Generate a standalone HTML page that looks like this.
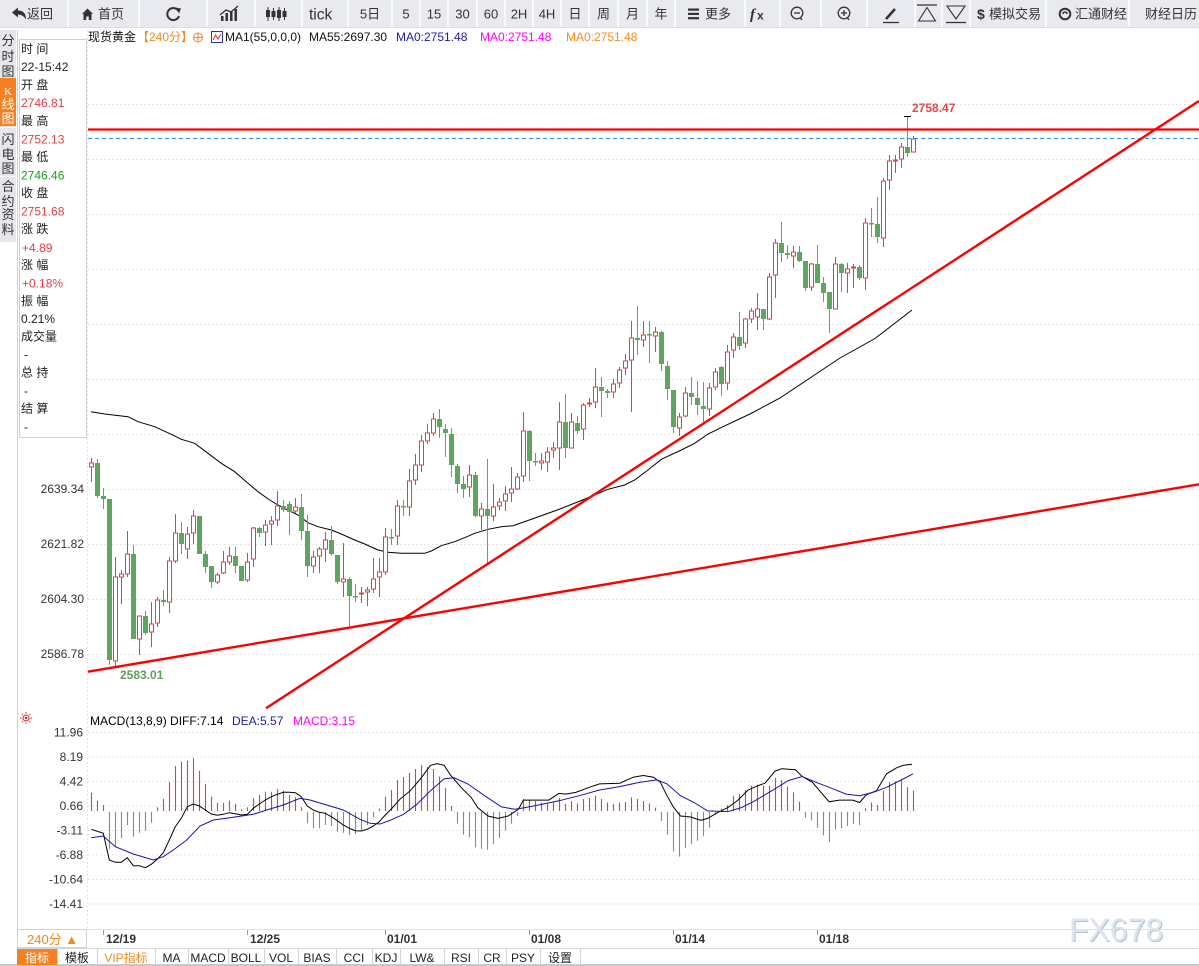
<!DOCTYPE html>
<html><head><meta charset="utf-8">
<style>
body{margin:0;width:1199px;height:966px;overflow:hidden;background:#fff;position:relative;}
svg{position:absolute;left:0;top:0;}
text{font-family:"Liberation Sans","Noto Sans CJK SC",sans-serif;}
.mono{font-family:"Liberation Mono","Noto Serif CJK SC",monospace;}
</style></head><body>
<svg width="1199" height="966" viewBox="0 0 1199 966" xmlns="http://www.w3.org/2000/svg">
<!-- TOOLBAR -->
<rect x="0" y="0" width="1199" height="27" fill="#e8eaef"/>
<line x1="0" y1="27.5" x2="1199" y2="27.5" stroke="#dadde3"/>
<path d="M68 0V27M139 0V27M207 0V27M255 0V27M302 0V27M348 0V27M392 0V27M420 0V27M448 0V27M477 0V27M505 0V27M533 0V27M561 0V27M589 0V27M618 0V27M647 0V27M675 0V27M745 0V27M780 0V27M821 0V27M867 0V27M915 0V27M942 0V27M970 0V27M1046 0V27M1129 0V27" stroke="#f8f9fb" stroke-width="2"/>
<g fill="#333">
<path d="M12 12.5 L18 7.5 L18 10.5 Q26 10.5 26 19.5 Q23 14.5 18 14.5 L18 17.5 Z"/>
<path d="M82 14 L87.5 8.5 L93 14 L91.5 14 L91.5 20 L88.8 20 L88.8 16.5 L86.2 16.5 L86.2 20 L83.5 20 L83.5 14Z"/>
</g>
<path d="M178.5 11 A6 6 0 1 0 179 16" fill="none" stroke="#333" stroke-width="2"/>
<path d="M175.5 7.5 L181 8.5 L179 13.5 Z" fill="#333"/>
<g fill="#333">
<rect x="221" y="16" width="2.5" height="5"/><rect x="225.5" y="13" width="2.5" height="8"/><rect x="230" y="11" width="2.5" height="10"/><rect x="234.5" y="9" width="2.5" height="12"/>
</g>
<polyline points="220,15 226,10 231,12 238,6" fill="none" stroke="#333" stroke-width="1.3"/>
<g fill="#333" stroke="#333">
<line x1="268" y1="7" x2="268" y2="21"/><rect x="266" y="10" width="4" height="7" stroke="none"/>
<line x1="273.5" y1="8" x2="273.5" y2="20"/><rect x="271.5" y="11" width="4" height="6" stroke="none"/>
<line x1="279" y1="7" x2="279" y2="21"/><rect x="277" y="10" width="4" height="8" stroke="none"/>
<line x1="284.5" y1="8" x2="284.5" y2="20"/><rect x="282.5" y="11" width="4" height="6" stroke="none"/>
</g>
<g font-size="13" fill="#333">
<text x="27" y="18.5">返回</text>
<text x="98" y="18.5">首页</text>
<text x="309" y="19.5" font-size="15.5">tick</text>
<g text-anchor="middle">
<text x="370" y="18.5">5日</text>
<text x="406" y="18.5">5</text>
<text x="434" y="18.5">15</text>
<text x="462.5" y="18.5">30</text>
<text x="491" y="18.5">60</text>
<text x="519" y="18.5">2H</text>
<text x="547" y="18.5">4H</text>
<text x="575" y="18.5">日</text>
<text x="603.5" y="18.5">周</text>
<text x="632.5" y="18.5">月</text>
<text x="661" y="18.5">年</text>
</g>
<text x="705" y="18.5">更多</text>
<text x="977" y="19" font-weight="bold" font-size="14">$</text>
<text x="989" y="18.5">模拟交易</text>
<text x="1075" y="18.5">汇通财经</text>
<text x="1145" y="18.5">财经日历</text>
</g>
<g fill="#333"><rect x="688" y="8.5" width="11" height="2.2"/><rect x="688" y="12.8" width="11" height="2.2"/><rect x="688" y="17.1" width="11" height="2.2"/></g>
<text x="750" y="19" font-size="15" font-weight="bold" font-style="italic" fill="#333" style="font-family:'Liberation Serif',serif">f</text>
<text x="757" y="19.5" font-size="12" font-weight="bold" fill="#333">x</text>
<circle cx="797" cy="13" r="5.8" fill="none" stroke="#333" stroke-width="1.3"/><line x1="794" y1="13" x2="800" y2="13" stroke="#333" stroke-width="1.3"/><line x1="800.5" y1="18" x2="802" y2="20" stroke="#333" stroke-width="1.3"/>
<circle cx="844" cy="13" r="5.8" fill="none" stroke="#333" stroke-width="1.3"/><line x1="841" y1="13" x2="847" y2="13" stroke="#333" stroke-width="1.3"/><line x1="844" y1="10" x2="844" y2="16" stroke="#333" stroke-width="1.3"/><line x1="847.5" y1="18" x2="849" y2="20" stroke="#333" stroke-width="1.3"/>
<line x1="886" y1="19" x2="895" y2="9" stroke="#333" stroke-width="2.6"/><line x1="883" y1="22.5" x2="899" y2="22.5" stroke="#333" stroke-width="1.3"/>
<line x1="917" y1="5" x2="937" y2="5" stroke="#333" stroke-width="1.2"/><path d="M927 7.5 L918.5 21 L935.5 21 Z" fill="none" stroke="#333" stroke-width="1.1"/>
<path d="M947 6 L965 6 L956 19 Z" fill="none" stroke="#333" stroke-width="1.1"/><line x1="946" y1="22.5" x2="966" y2="22.5" stroke="#333" stroke-width="1.2"/>
<circle cx="1065" cy="14" r="5.3" fill="none" stroke="#333" stroke-width="2"/><path d="M1063 14 A2 2 0 1 1 1067 14" fill="none" stroke="#333" stroke-width="1.6"/>

<!-- LEFT TABS -->
<rect x="0" y="30" width="16" height="212" fill="#e6e7ea"/>
<rect x="0" y="78" width="16" height="48" fill="#f5801f"/>
<line x1="0" y1="127.5" x2="16" y2="127.5" stroke="#fafafa"/>
<line x1="0" y1="176.5" x2="16" y2="176.5" stroke="#fafafa"/>
<line x1="17.5" y1="30" x2="17.5" y2="966" stroke="#cbd2dc"/>
<g font-size="13" fill="#333" text-anchor="middle">
<text x="8" y="45">分</text><text x="8" y="61">时</text><text x="8" y="76">图</text>
<text x="8" y="95" fill="#fff" font-size="11" style="font-family:'Liberation Serif',serif">K</text><text x="8" y="109" fill="#fff">线</text><text x="8" y="123" fill="#fff">图</text>
<text x="8" y="144">闪</text><text x="8" y="159">电</text><text x="8" y="173">图</text>
<text x="8" y="191">合</text><text x="8" y="206">约</text><text x="8" y="219">资</text><text x="8" y="234">料</text>
</g>

<!-- GRID -->
<g stroke="#dedede" stroke-dasharray="1.5,2.5" stroke-width="1">
<path d="M88 104.5H1199M88 159.5H1199M88 214.5H1199M88 269.5H1199M88 324.5H1199M88 379.5H1199M88 434.5H1199M88 489.5H1199M88 544.5H1199M88 599.5H1199M88 654.5H1199"/>
<path d="M88 732.5H1199M88 757H1199M88 781.5H1199M88 806H1199M88 830.5H1199M88 855H1199M88 879.5H1199M88 904H1199"/>
<path d="M87.5 30V929"/>
</g>

<!-- INFO BOX -->
<rect x="19.5" y="39.5" width="67" height="398" fill="#fff" stroke="#cfcfcf"/>
<g font-size="12" fill="#222">
<text x="21" y="53">时 间</text>
<text x="21" y="71">22-15:42</text>
<text x="21" y="89">开 盘</text>
<text x="21" y="107" fill="#e33d45">2746.81</text>
<text x="21" y="125">最 高</text>
<text x="21" y="143.5" fill="#e33d45">2752.13</text>
<text x="21" y="161">最 低</text>
<text x="21" y="179.5" fill="#1e9a1e">2746.46</text>
<text x="21" y="197">收 盘</text>
<text x="21" y="215.5" fill="#e33d45">2751.68</text>
<text x="21" y="233">涨 跌</text>
<text x="22" y="252" fill="#e33d45">+4.89</text>
<text x="21" y="269">涨 幅</text>
<text x="22" y="287.5" fill="#e33d45">+0.18%</text>
<text x="21" y="305">振 幅</text>
<text x="21" y="323">0.21%</text>
<text x="21" y="340.5">成交量</text>
<text x="24" y="358.5">-</text>
<text x="21" y="376.5">总 持</text>
<text x="24" y="395">-</text>
<text x="21" y="412.5">结 算</text>
<text x="24" y="431">-</text>
</g>

<!-- HEADER -->
<g font-size="12">
<text x="88" y="41" fill="#111">现货黄金</text>
<text x="137" y="41" fill="#f08a1c">【240分】</text>
<text x="225" y="41" fill="#111">MA1(55,0,0,0)</text>
<text x="309" y="41" fill="#111">MA55:2697.30</text>
<text x="396" y="41" fill="#1c1ca8">MA0:2751.48</text>
<text x="480" y="41" fill="#ff00ff">MA0:2751.48</text>
<text x="566" y="41" fill="#ff8a1c">MA0:2751.48</text>
</g>
<circle cx="198" cy="37.5" r="4.5" fill="none" stroke="#f08a1c" stroke-width="1"/>
<path d="M193.5 37.5H202.5M198 33V42" stroke="#f08a1c" stroke-width="1"/>
<rect x="211.5" y="31.5" width="11" height="11" fill="#fff" stroke="#2a3ab0"/>
<polyline points="213,40 215.5,35 218,39 221,34" fill="none" stroke="#e03030" stroke-width="1"/>

<!-- PRICE AXIS LABELS -->
<g font-size="12" fill="#333" text-anchor="end">
<text x="84" y="493">2639.34</text>
<text x="84" y="548">2621.82</text>
<text x="84" y="603">2604.30</text>
<text x="84" y="658">2586.78</text>
</g>

<!-- MA55 -->
<polyline fill="none" stroke="#000" stroke-width="1" points="91,411.7 104.7,414 128,416.7 138,421.7 154.7,426.7 171.3,434.3 181.3,439.3 194.7,443.3 208,453.3 221.3,463.3 234.7,471.7 248,483.3 258,491.7 269.7,500 278,505 288,510 298,515 308,522.7 318,526.7 331.3,530 341.3,534 354.7,540 364.7,544 378,550 388,552.3 401.3,553.3 424.7,553.3 431.3,551 441.3,545.7 454.7,541.7 464.7,537.7 474.7,533.3 488,529.3 501.3,526.7 513,525.7 535,518 560,509 585,499 608,489.3 624.7,485 634.7,480 648,470 661.3,459.3 681.3,450 694.7,443.3 708,434 723,426.7 750,414 780,398 810,378 840,358 875,338.5 912,310"/>

<!-- CANDLES: red -->
<path fill="none" stroke="#e0413c" stroke-width="1" d="M91.5 458V482M115.5 557V667M121.5 570V604M127.5 531V577M139.5 616V655M151.5 602V647M157.5 597V627M169.5 557V613M175.5 514V563M187.5 527V559M193.5 510V544M217.5 573V584M223.5 551V574M229.5 547V565M247.5 553V582M253.5 527V567M265.5 520V546M271.5 516V545M277.5 491V526M295.5 498V513M313.5 551V573M319.5 547V573M325.5 532V562M343.5 543V597M361.5 587V603M367.5 587V606M373.5 558V593M379.5 558V597M385.5 528V575M397.5 500V545M409.5 469V516M415.5 454V485M421.5 435V472M427.5 424V444M433.5 413V436M469.5 465V497M481.5 503V530M493.5 484V521M499.5 498V510M505.5 486V511M511.5 467V502M517.5 473V490M523.5 412V482M541.5 453V470M547.5 447V472M553.5 442V458M559.5 402V470M571.5 413V448M583.5 403V440M589.5 398V407M595.5 368V408M613.5 379V398M619.5 367V388M625.5 354V375M631.5 321V412M643.5 321V347M655.5 327V352M679.5 413V436M685.5 387V417M709.5 383V416M715.5 368V390M727.5 345V390M733.5 333V358M745.5 318V348M751.5 308V323M757.5 293V330M769.5 273V320M775.5 239V298M793.5 246V268M811.5 263V291M835.5 257V309M847.5 263V293M853.5 264V288M865.5 218V290M883.5 178V247M889.5 155V190M895.5 155V173M901.5 143V168M913.5 136V152"/>
<g fill="#fff" stroke="#e0413c" stroke-width="1">
<rect x="89.5" y="463" width="4" height="4"/>
<rect x="113.5" y="577" width="4" height="84"/>
<rect x="119.5" y="574" width="4" height="3"/>
<rect x="125.5" y="554" width="4" height="20"/>
<rect x="137.5" y="616" width="4" height="23"/>
<rect x="149.5" y="624" width="4" height="8"/>
<rect x="155.5" y="600" width="4" height="23"/>
<rect x="167.5" y="561" width="4" height="41"/>
<rect x="173.5" y="533" width="4" height="28"/>
<rect x="185.5" y="534" width="4" height="15"/>
<rect x="191.5" y="516" width="4" height="17"/>
<rect x="215.5" y="575" width="4" height="7"/>
<rect x="221.5" y="562" width="4" height="11"/>
<rect x="227.5" y="556" width="4" height="6"/>
<rect x="245.5" y="562" width="4" height="18"/>
<rect x="251.5" y="528" width="4" height="31"/>
<rect x="263.5" y="525" width="4" height="7"/>
<rect x="269.5" y="521" width="4" height="3"/>
<rect x="275.5" y="506" width="4" height="14"/>
<rect x="293.5" y="507" width="4" height="4"/>
<rect x="311.5" y="557" width="4" height="9"/>
<rect x="317.5" y="549" width="4" height="7"/>
<rect x="323.5" y="540" width="4" height="9"/>
<rect x="341.5" y="579" width="4" height="3"/>
<rect x="359.5" y="593" width="4" height="1"/>
<rect x="365.5" y="590" width="4" height="2"/>
<rect x="371.5" y="579" width="4" height="10"/>
<rect x="377.5" y="572" width="4" height="5"/>
<rect x="383.5" y="537" width="4" height="35"/>
<rect x="395.5" y="506" width="4" height="30"/>
<rect x="407.5" y="481" width="4" height="26"/>
<rect x="413.5" y="465" width="4" height="15"/>
<rect x="419.5" y="441" width="4" height="24"/>
<rect x="425.5" y="433" width="4" height="8"/>
<rect x="431.5" y="419" width="4" height="14"/>
<rect x="467.5" y="475" width="4" height="12"/>
<rect x="479.5" y="509" width="4" height="7"/>
<rect x="491.5" y="507" width="4" height="9"/>
<rect x="497.5" y="502" width="4" height="4"/>
<rect x="503.5" y="494" width="4" height="7"/>
<rect x="509.5" y="489" width="4" height="4"/>
<rect x="515.5" y="477" width="4" height="12"/>
<rect x="521.5" y="431" width="4" height="45"/>
<rect x="539.5" y="461" width="4" height="2"/>
<rect x="545.5" y="452" width="4" height="10"/>
<rect x="551.5" y="448" width="4" height="2"/>
<rect x="557.5" y="422" width="4" height="26"/>
<rect x="569.5" y="422" width="4" height="26"/>
<rect x="581.5" y="405" width="4" height="24"/>
<rect x="587.5" y="403" width="4" height="1"/>
<rect x="593.5" y="387" width="4" height="15"/>
<rect x="611.5" y="384" width="4" height="8"/>
<rect x="617.5" y="370" width="4" height="13"/>
<rect x="623.5" y="361" width="4" height="7"/>
<rect x="629.5" y="338" width="4" height="22"/>
<rect x="641.5" y="335" width="4" height="5"/>
<rect x="653.5" y="332" width="4" height="4"/>
<rect x="677.5" y="417" width="4" height="11"/>
<rect x="683.5" y="393" width="4" height="23"/>
<rect x="707.5" y="388" width="4" height="21"/>
<rect x="713.5" y="372" width="4" height="15"/>
<rect x="725.5" y="352" width="4" height="31"/>
<rect x="731.5" y="337" width="4" height="13"/>
<rect x="743.5" y="319" width="4" height="24"/>
<rect x="749.5" y="311" width="4" height="8"/>
<rect x="755.5" y="309" width="4" height="8"/>
<rect x="767.5" y="277" width="4" height="42"/>
<rect x="773.5" y="243" width="4" height="32"/>
<rect x="791.5" y="252" width="4" height="4"/>
<rect x="809.5" y="264" width="4" height="23"/>
<rect x="833.5" y="264" width="4" height="45"/>
<rect x="845.5" y="269" width="4" height="4"/>
<rect x="851.5" y="267" width="4" height="1"/>
<rect x="863.5" y="223" width="4" height="55"/>
<rect x="881.5" y="181" width="4" height="57"/>
<rect x="887.5" y="161" width="4" height="19"/>
<rect x="893.5" y="160" width="4" height="1"/>
<rect x="899.5" y="147" width="4" height="12"/>
<rect x="911.5" y="139" width="4" height="13"/>
</g>
<!-- CANDLES: green -->
<path fill="none" stroke="#5fa55f" stroke-width="1" d="M97.5 459V498M103.5 488V509M109.5 499V665M133.5 545V639M145.5 611V635M163.5 590V606M181.5 522V554M199.5 516V554M205.5 551V573M211.5 566V588M235.5 547V573M241.5 566V581M259.5 527V537M283.5 500V512M289.5 501V535M301.5 494V540M307.5 515V577M331.5 526V556M337.5 555V584M349.5 577V626M355.5 584V602M391.5 529V545M403.5 500V516M439.5 409V438M445.5 424V457M451.5 428V477M457.5 464V493M463.5 476V498M475.5 472V517M487.5 459V565M529.5 430V481M535.5 453V466M565.5 394V458M577.5 416V434M601.5 377V417M607.5 389V398M637.5 306V355M649.5 321V363M661.5 331V371M667.5 361V400M673.5 390V433M691.5 377V405M697.5 381V415M703.5 382V423M721.5 366V396M739.5 312V350M763.5 309V330M781.5 222V262M787.5 245V259M799.5 246V262M805.5 261V291M817.5 245V283M823.5 277V302M829.5 292V333M841.5 263V292M859.5 265V280M871.5 208V237M877.5 197V243M907.5 116V157"/>
<g fill="#5fa55f">
<rect x="95" y="463" width="5" height="33"/>
<rect x="101" y="496" width="5" height="3"/>
<rect x="107" y="499" width="5" height="161"/>
<rect x="131" y="554" width="5" height="85"/>
<rect x="143" y="616" width="5" height="17"/>
<rect x="161" y="600" width="5" height="2"/>
<rect x="179" y="533" width="5" height="11"/>
<rect x="197" y="516" width="5" height="38"/>
<rect x="203" y="554" width="5" height="13"/>
<rect x="209" y="566" width="5" height="16"/>
<rect x="233" y="556" width="5" height="10"/>
<rect x="239" y="566" width="5" height="15"/>
<rect x="257" y="528" width="5" height="5"/>
<rect x="281" y="506" width="5" height="4"/>
<rect x="287" y="504" width="5" height="8"/>
<rect x="299" y="507" width="5" height="24"/>
<rect x="305" y="531" width="5" height="35"/>
<rect x="329" y="540" width="5" height="14"/>
<rect x="335" y="555" width="5" height="27"/>
<rect x="347" y="579" width="5" height="17"/>
<rect x="353" y="596" width="5" height="1.5"/>
<rect x="389" y="537" width="5" height="1.5"/>
<rect x="401" y="506" width="5" height="1.5"/>
<rect x="437" y="419" width="5" height="8"/>
<rect x="443" y="429" width="5" height="4"/>
<rect x="449" y="434" width="5" height="31"/>
<rect x="455" y="466" width="5" height="18"/>
<rect x="461" y="484" width="5" height="5"/>
<rect x="473" y="475" width="5" height="41"/>
<rect x="485" y="509" width="5" height="7"/>
<rect x="527" y="431" width="5" height="30"/>
<rect x="533" y="461" width="5" height="1.5"/>
<rect x="563" y="422" width="5" height="26"/>
<rect x="575" y="423" width="5" height="8"/>
<rect x="599" y="387" width="5" height="4"/>
<rect x="605" y="391" width="5" height="2"/>
<rect x="635" y="338" width="5" height="2"/>
<rect x="647" y="334" width="5" height="1.5"/>
<rect x="659" y="332" width="5" height="32"/>
<rect x="665" y="366" width="5" height="23"/>
<rect x="671" y="390" width="5" height="37"/>
<rect x="689" y="393" width="5" height="4"/>
<rect x="695" y="398" width="5" height="7"/>
<rect x="701" y="406" width="5" height="3"/>
<rect x="719" y="367" width="5" height="17"/>
<rect x="737" y="337" width="5" height="9"/>
<rect x="761" y="309" width="5" height="10"/>
<rect x="779" y="243" width="5" height="10"/>
<rect x="785" y="253" width="5" height="2"/>
<rect x="797" y="252" width="5" height="9"/>
<rect x="803" y="261" width="5" height="27"/>
<rect x="815" y="264" width="5" height="19"/>
<rect x="821" y="283" width="5" height="10"/>
<rect x="827" y="292" width="5" height="17"/>
<rect x="839" y="264" width="5" height="9"/>
<rect x="857" y="267" width="5" height="11"/>
<rect x="869" y="223" width="5" height="1.5"/>
<rect x="875" y="224" width="5" height="13"/>
<rect x="905" y="147" width="5" height="6"/>
</g>

<!-- high / low marks -->
<line x1="904" y1="116.5" x2="911" y2="116.5" stroke="#000" stroke-width="1"/>
<line x1="112" y1="667.5" x2="119" y2="667.5" stroke="#000" stroke-width="1"/>
<text x="912" y="112" font-size="12" font-weight="bold" fill="#e0484a">2758.47</text>
<text x="120" y="679" font-size="12" font-weight="bold" fill="#5e9e5e">2583.01</text>

<!-- LINES -->
<line x1="88" y1="129.5" x2="1199" y2="129.5" stroke="#ff0000" stroke-width="2.3"/>
<line x1="88" y1="138.5" x2="1199" y2="138.5" stroke="#2f93ff" stroke-width="1" stroke-dasharray="4,3"/>
<line x1="88" y1="671.7" x2="1199" y2="484.3" stroke="#ff0000" stroke-width="2.4"/>
<line x1="266" y1="708.2" x2="1199" y2="101" stroke="#ff0000" stroke-width="2.4"/>

<!-- MACD header -->
<g transform="translate(26,718)" stroke="#e02020" stroke-width="1">
<circle cx="0" cy="0" r="3" fill="none"/><circle cx="0" cy="0" r="1.2" fill="#e02020" stroke="none"/>
<path d="M0 -6V-4.5M0 4.5V6M-6 0H-4.5M4.5 0H6M-4.2 -4.2L-3.2 -3.2M3.2 3.2L4.2 4.2M-4.2 4.2L-3.2 3.2M3.2 -3.2L4.2 -4.2"/>
</g>
<g font-size="12">
<text x="90" y="725">MACD(13,8,9) DIFF:7.14</text>
<text x="232" y="725" fill="#1c1ca8">DEA:5.57</text>
<text x="293" y="725" fill="#ff00ff">MACD:3.15</text>
</g>
<g font-size="12" fill="#333" text-anchor="end">
<text x="83" y="736.5">11.96</text>
<text x="83" y="761">8.19</text>
<text x="83" y="785.5">4.42</text>
<text x="83" y="810">0.66</text>
<text x="83" y="834.5">-3.11</text>
<text x="83" y="859">-6.88</text>
<text x="83" y="883.5">-10.64</text>
<text x="83" y="908">-14.41</text>
</g>

<!-- MACD histogram -->
<path fill="none" stroke="#e04040" stroke-width="1.1" d="M91.5 811V792.7M97.5 811V800.7M103.5 811V805M157.5 811V807.3M163.5 811V799M169.5 811V782M175.5 811V766M181.5 811V761.7M187.5 811V760.7M193.5 811V758.3M199.5 811V770.7M205.5 811V784M211.5 811V796.7M217.5 811V802.7M223.5 811V802.7M229.5 811V800.7M235.5 811V804M241.5 811V809.3M247.5 811V807.3M253.5 811V798.3M259.5 811V795M265.5 811V791.7M271.5 811V791.7M277.5 811V789M283.5 811V790.7M289.5 811V795M295.5 811V797.3M301.5 811V807.3M379.5 811V808.5M385.5 811V796.7M391.5 811V790M397.5 811V780M403.5 811V777M409.5 811V773M415.5 811V769M421.5 811V765M427.5 811V767M433.5 811V769M439.5 811V776.5M445.5 811V788M451.5 811V806M523.5 811V799M529.5 811V800M535.5 811V801M541.5 811V802.5M547.5 811V803.5M553.5 811V802.5M559.5 811V798M565.5 811V804M571.5 811V801M577.5 811V803.5M583.5 811V799M589.5 811V798M595.5 811V795.7M601.5 811V799M607.5 811V802.5M613.5 811V804M619.5 811V802.5M625.5 811V802M631.5 811V797.4M637.5 811V799M643.5 811V801M649.5 811V803.5M655.5 811V807.6M721.5 811V808.5M727.5 811V805M733.5 811V795.7M739.5 811V794M745.5 811V790M751.5 811V785.6M757.5 811V784.6M763.5 811V785.6M769.5 811V785.6M775.5 811V777.8M781.5 811V780M787.5 811V786.6M793.5 811V792.4M799.5 811V801.8M865.5 811V808.5M871.5 811V802.5M877.5 811V805M883.5 811V790.7M889.5 811V782.2M895.5 811V781.2M901.5 811V780M907.5 811V787.3M913.5 811V790.7"/>
<path fill="none" stroke="#5fa55f" stroke-width="1.1" d="M109.5 812V849.3M115.5 812V846.7M121.5 812V838.3M127.5 812V825M133.5 812V836.7M139.5 812V832.7M145.5 812V830.7M151.5 812V822.7M307.5 812V823.3M313.5 812V828.3M319.5 812V828.3M325.5 812V825M331.5 812V826M337.5 812V831.7M343.5 812V832.7M349.5 812V835M355.5 812V834M361.5 812V830M367.5 812V825M373.5 812V817.3M457.5 812V823.8M463.5 812V834.6M469.5 812V837.3M475.5 812V847.4M481.5 812V848.8M487.5 812V849.8M493.5 812V844M499.5 812V838M505.5 812V830.5M511.5 812V823.8M517.5 812V816M661.5 812V821M667.5 812V834.6M673.5 812V851.5M679.5 812V856.6M685.5 812V848M691.5 812V844M697.5 812V840.7M703.5 812V836.3M709.5 812V827.8M715.5 812V815M805.5 812V817.7M811.5 812V820.4M817.5 812V827.8M823.5 812V835.3M829.5 812V842M835.5 812V829.5M841.5 812V828.5M847.5 812V826M853.5 812V823.8M859.5 812V825"/>

<!-- DIFF -->
<polyline fill="none" stroke="#000" stroke-width="1" points="91.3,829.3 103.3,833.3 109.3,860 115.3,862.3 121.3,862.3 127.3,857.7 133.3,865.7 139.3,865.7 145.3,867.7 151.3,864.3 157.3,859.3 163.3,852.7 169.3,840 175.3,826.7 181.3,818.3 187.3,806.7 193.3,804 199.3,806 205.3,810 211.3,814 217.3,815.3 223.3,814.3 229.3,812.7 235.3,813.7 241.3,815 247.3,814.3 253.3,808.3 259.3,804 265.3,800 271.3,796.7 277.3,794.3 283.3,792.3 289.3,792.3 295.3,792.7 301.3,796.7 307.3,806 313.3,810 319.3,812.3 325.3,813.3 331.3,816.7 337.3,820.7 343.3,825 349.3,828.3 355.3,830.7 361.3,831 367.3,829.3 373.3,826 379.3,821.7 385.3,815 391.3,809 400.1,799.1 410.3,790.7 420.4,778.9 430.5,765.3 437.3,763.6 444.1,765.3 450.8,775.5 461,787.3 471.1,797.4 477.8,807.6 488,816 498.1,818.4 508.2,816 518.4,809.3 523.4,800.1 548.8,800.1 558.9,793.4 565.7,794.1 575.8,792.4 589.3,787.3 599.5,783.9 619.7,783.2 633.2,777.2 643.4,775.5 653.5,777.2 660.3,782.2 667,795.7 673.8,807.6 680.5,816 690.7,817 700.8,820.4 707.6,818.4 717.7,812.6 727.8,807.6 738,800.1 748.1,790 758.2,785.6 765,783.2 775.1,771.1 781.9,768.7 795.4,769.7 802.2,776.5 812.3,782.2 822.4,794.1 829.2,801.8 839.3,800.1 852.8,800.1 859.6,802.5 866.4,794.7 876.5,790.7 886.6,773.8 896.8,767.7 903.5,765.3 912,764.3"/>
<!-- DEA -->
<polyline fill="none" stroke="#1414b4" stroke-width="1" points="91.3,837.7 103.3,836 115.3,846.7 133.3,854 153.3,860 163.3,856.7 173.3,850 186.7,840 200,826 213.3,820 233.3,817.3 253.3,814.3 266.7,810 283.3,805 300,798.3 310,800 326.7,805 343.3,810 360,819.3 370,823.3 380,824 390,820.4 403.5,814.3 417,804.2 430.5,790.7 444.1,778.9 454.2,777.8 467.7,783.9 484.6,795.7 501.5,806.9 515,809.3 525.1,807.6 542,804.2 558.9,800.8 579.2,795.7 599.5,790 619.7,786.6 640,782.2 656.9,779.9 667,783.9 680.5,795.7 694.1,802.5 707.6,810.9 727.8,811.6 741.4,807.6 754.9,800.8 771.8,790.7 788.6,780.5 802.2,776.5 815.7,782.2 829.2,787.3 846.1,794.1 859.6,795.7 873.1,792.4 886.6,787.3 900.1,780.5 913,773.8"/>

<!-- X AXIS -->
<line x1="87" y1="929.5" x2="1199" y2="929.5" stroke="#e2e2e2"/>
<rect x="17.5" y="929.5" width="69" height="18" fill="#fff" stroke="#cfd3d9"/>
<text x="27" y="944" font-size="13" fill="#f08a1c">240分 ▲</text>
<path d="M103.5 930V935M247.5 930V935M385.5 930V935M529.5 930V935M673.5 930V935M817.5 930V935" stroke="#999"/>
<g font-size="12" font-weight="bold" fill="#333">
<text x="106" y="943">12/19</text>
<text x="250" y="943">12/25</text>
<text x="387" y="943">01/01</text>
<text x="531" y="943">01/08</text>
<text x="675" y="943">01/14</text>
<text x="819" y="943">01/18</text>
</g>
<text x="1070" y="942" font-size="32" fill="#b8c2cf" style="font-family:'Liberation Sans',sans-serif">FX678</text>
<text x="1069" y="941" font-size="32" fill="#dce5f0" style="font-family:'Liberation Sans',sans-serif">FX678</text>

<!-- BOTTOM TABS -->
<line x1="17" y1="948.5" x2="1199" y2="948.5" stroke="#d4d8de"/>
<line x1="0" y1="965" x2="1199" y2="965" stroke="#c3c9d2" stroke-width="2"/>
<rect x="17" y="949" width="40" height="16" fill="#f5801f"/>
<path d="M57.5 949V965M97.5 949V965M155.5 949V965M188.5 949V965M228.5 949V965M264.5 949V965M298.5 949V965M336.5 949V965M372.5 949V965M400.5 949V965M444.5 949V965M478.5 949V965M506.5 949V965M540.5 949V965M580.5 949V965" stroke="#d0d4da"/>
<g class="mono" font-size="12" fill="#222" text-anchor="middle">
<text x="37" y="962" fill="#fff">指标</text>
<text x="77" y="962">模板</text>
<text x="126" y="962" fill="#f08a1c">VIP指标</text>
<text x="171.5" y="962">MA</text>
<text x="208" y="962">MACD</text>
<text x="246" y="962">BOLL</text>
<text x="281" y="962">VOL</text>
<text x="317" y="962">BIAS</text>
<text x="354" y="962">CCI</text>
<text x="386" y="962">KDJ</text>
<text x="422" y="962">LW&amp;</text>
<text x="461" y="962">RSI</text>
<text x="492" y="962">CR</text>
<text x="523" y="962">PSY</text>
<text x="560" y="962">设置</text>
</g>
</svg>
</body></html>
